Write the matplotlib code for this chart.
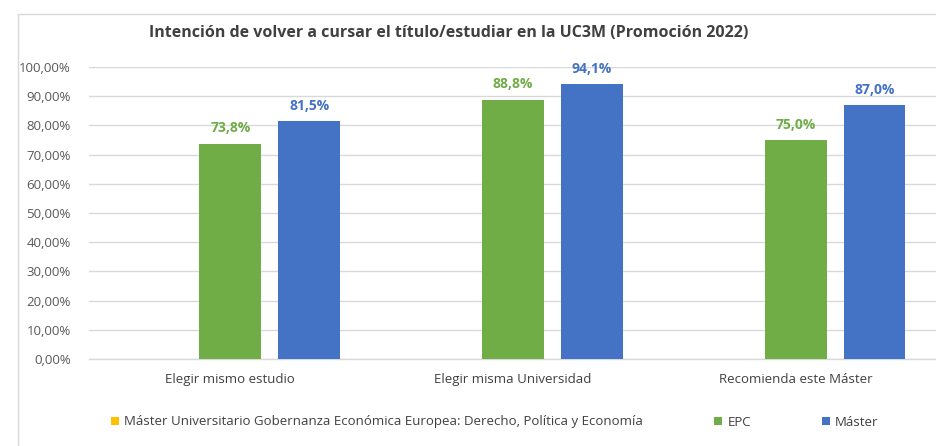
import numpy as np
import matplotlib
matplotlib.use("Agg")
import matplotlib.pyplot as plt
from matplotlib.patches import Rectangle, Patch

categories = ["Elegir mismo estudio", "Elegir misma Universidad", "Recomienda este Máster"]
series_names = ["Máster Universitario Gobernanza Económica Europea: Derecho, Política y Economía", "EPC", "Máster"]
mugee = [np.nan, np.nan, np.nan]
epc = [73.8, 88.8, 75.0]
master = [81.5, 94.1, 87.0]
yticks = [0, 10, 20, 30, 40, 50, 60, 70, 80, 90, 100]
title = "Intención de volver a cursar el título/estudiar en la UC3M (Promoción 2022)"

colors = ["#FFC000", "#70AD47", "#4472C4"]
plt.rcParams['font.family'] = ['Open Sans', 'DejaVu Sans']

W, H = 937, 446
fig = plt.figure(figsize=(W / 100, H / 100), dpi=100)

# outer chart frame
fig.patches.append(Rectangle((18 / W, -0.1), 1.2, 1 - 14 / H + 0.1, transform=fig.transFigure,
                             fill=False, edgecolor="#D9D9D9", linewidth=1.0))

ax = fig.add_axes([89 / W, 1 - 359 / H, (W - 89) / W, (359 - 67) / H])
x = np.arange(len(categories))
bw = 0.219
off = 0.279
for i, (vals, c) in enumerate(zip([mugee, epc, master], colors)):
    ax.bar(x + (i - 1) * off, vals, width=bw, color=c, zorder=3)
    for xi, v in zip(x + (i - 1) * off, vals):
        if not np.isnan(v):
            ax.annotate(f"{v:.1f}%".replace(".", ","), (xi, v), xytext=(0, 6),
                        textcoords="offset points", ha="center", va="bottom",
                        fontsize=10, fontweight="bold", color=c)

ax.set_xlim(-0.5, 2.5)
ax.set_ylim(0, 100)
ax.set_yticks(yticks)
ax.set_yticklabels([f"{t:.2f}%".replace(".", ",") for t in yticks], fontsize=9.5, color="#595959")
ax.set_xticks(x)
ax.set_xticklabels(categories, fontsize=9.5, color="#404040")
ax.tick_params(axis="both", length=0)
ax.tick_params(axis="x", pad=10)
ax.tick_params(axis="y", pad=13)
ax.grid(axis="y", color="#D9D9D9", linewidth=1.0, zorder=0)
for s in ["top", "right", "left"]:
    ax.spines[s].set_visible(False)
ax.spines["bottom"].set_color("#D9D9D9")
ax.spines["bottom"].set_linewidth(1.0)
ax.set_facecolor("none")

fig.text(449 / W, 1 - 33 / H, title, ha="center", va="center", fontsize=11.5,
         fontweight="bold", color="#404040")

handles = [Patch(facecolor=c, edgecolor="none") for c in colors]
fig.legend(handles, series_names, loc="center", bbox_to_anchor=(495 / W, 1 - 422 / H),
           ncol=3, frameon=False, fontsize=9.5,
           handlelength=0.6, handleheight=0.6,
           handletextpad=0.38, columnspacing=5.4, labelcolor="#404040")

fig.savefig("out.png", dpi=100)
